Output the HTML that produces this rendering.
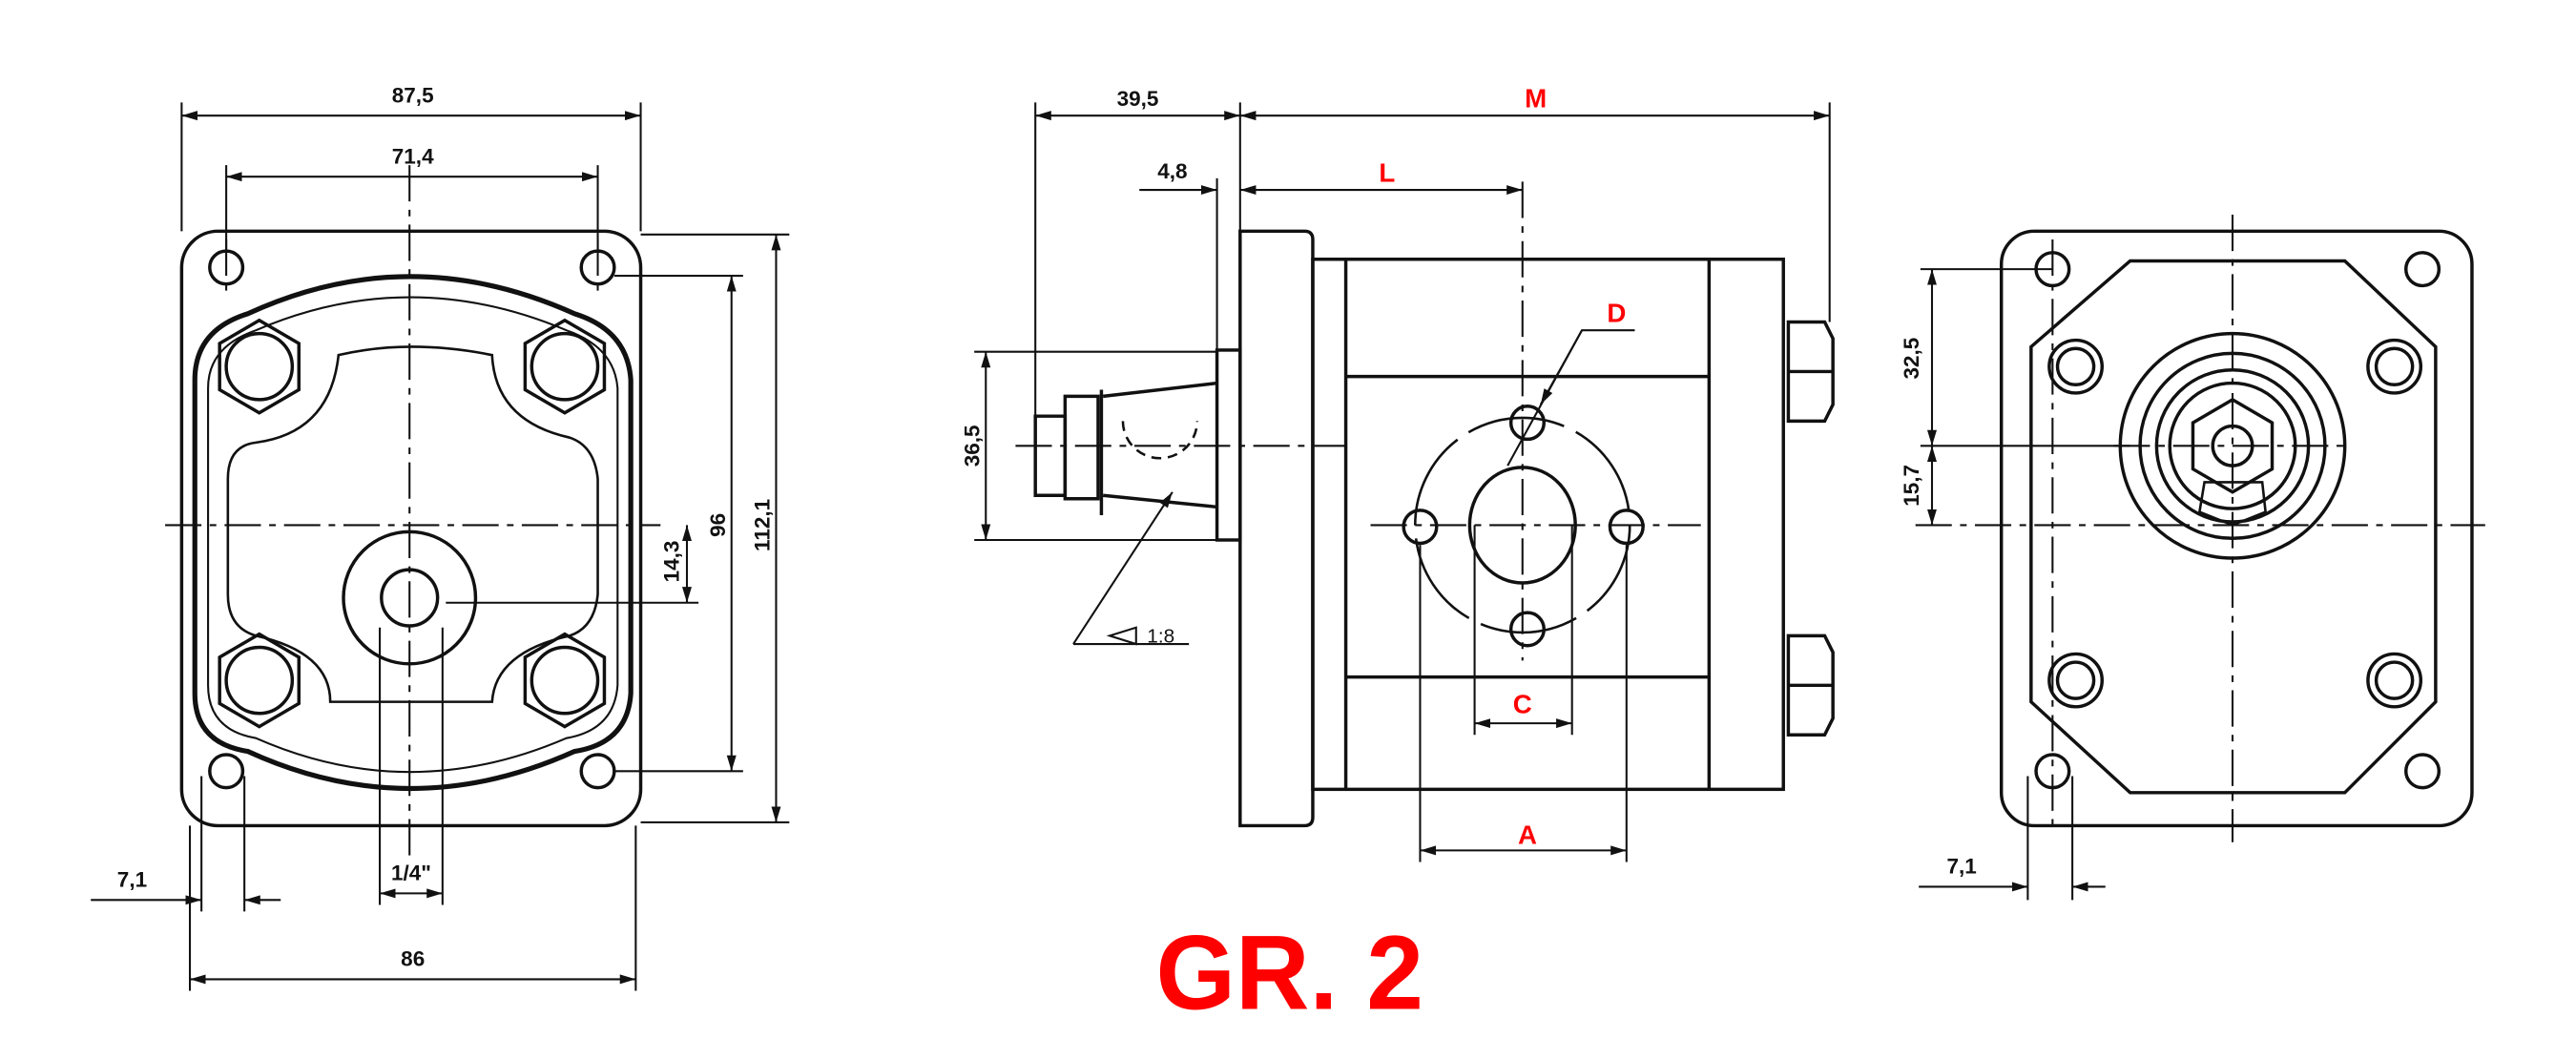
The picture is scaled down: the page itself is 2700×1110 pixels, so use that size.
<!DOCTYPE html>
<html><head><meta charset="utf-8"><style>
html,body{margin:0;padding:0;background:#fff;width:2700px;height:1110px;overflow:hidden}
svg{display:block}
text{font-family:"Liberation Sans",sans-serif;font-weight:bold;fill:#111;font-size:13px}
.r{fill:#f00;font-size:16px}
</style></head><body>
<svg width="2700" height="1110" viewBox="0 0 1560 641.3" preserveAspectRatio="none" xmlns="http://www.w3.org/2000/svg">
<defs>
<marker id="a" viewBox="0 0 10 6" refX="10" refY="3" markerWidth="8" markerHeight="5" orient="auto-start-reverse"><path d="M0,0L10,3L0,6z" fill="#111"/></marker>
</defs>
<g fill="none" stroke="#111" stroke-width="1.2">
<!-- ============ LEFT VIEW ============ -->
<g stroke-width="2">
<rect x="110" y="140" width="278" height="360" rx="22"/>
<circle cx="137" cy="162" r="10"/><circle cx="362" cy="162" r="10"/><circle cx="137" cy="467" r="10"/><circle cx="362" cy="467" r="10"/>
<path d="M150,190 Q248,145 348,190 Q380,200 382,230 L382,420 Q380,450 348,455 Q248,500 150,455 Q118,450 118,420 L118,230 Q118,200 150,190Z" stroke-width="3"/>
<path d="M155,200 Q248,160 343,200 Q372,210 374,235 L374,415 Q372,442 343,447 Q248,488 155,447 Q126,442 126,415 L126,235 Q126,210 155,200Z" stroke-width="1.2"/>
<path d="M205,215 Q248,205 298,215 Q300,255 345,265 Q360,270 362,290 L362,360 Q360,380 345,385 Q300,395 298,425 L200,425 Q200,395 155,385 Q138,380 138,360 L138,290 Q138,270 155,268 Q200,262 205,215Z" stroke-width="1.5"/>
<path d="M157,194 l24,14 v28 l-24,14 l-24,-14 v-28z"/><circle cx="157" cy="222" r="20"/>
<path d="M342,194 l24,14 v28 l-24,14 l-24,-14 v-28z"/><circle cx="342" cy="222" r="20"/>
<path d="M157,384 l24,14 v28 l-24,14 l-24,-14 v-28z"/><circle cx="157" cy="412" r="20"/>
<path d="M342,384 l24,14 v28 l-24,14 l-24,-14 v-28z"/><circle cx="342" cy="412" r="20"/>
<circle cx="248" cy="362" r="40"/><circle cx="248" cy="362" r="17"/>
</g>
<g stroke-dasharray="22,5,4,5">
<line x1="248" y1="100" x2="248" y2="520"/><line x1="100" y1="318" x2="400" y2="318"/>
<line x1="137" y1="145" x2="137" y2="180"/><line x1="362" y1="145" x2="362" y2="180"/>
</g>
<line x1="110" y1="62" x2="110" y2="140"/><line x1="388" y1="62" x2="388" y2="140"/>
<line x1="110" y1="70" x2="388" y2="70" marker-start="url(#a)" marker-end="url(#a)"/>
<line x1="137" y1="100" x2="137" y2="152"/><line x1="362" y1="100" x2="362" y2="152"/>
<line x1="137" y1="107" x2="362" y2="107" marker-start="url(#a)" marker-end="url(#a)"/>
<line x1="115" y1="500" x2="115" y2="600"/><line x1="385" y1="500" x2="385" y2="600"/>
<line x1="115" y1="593" x2="385" y2="593" marker-start="url(#a)" marker-end="url(#a)"/>
<line x1="122" y1="470" x2="122" y2="552"/><line x1="148" y1="470" x2="148" y2="552"/>
<line x1="55" y1="545" x2="122" y2="545" marker-end="url(#a)"/><line x1="170" y1="545" x2="148" y2="545" marker-end="url(#a)"/>
<line x1="230" y1="380" x2="230" y2="548"/><line x1="268" y1="380" x2="268" y2="548"/>
<line x1="230" y1="541" x2="268" y2="541" marker-start="url(#a)" marker-end="url(#a)"/>
<line x1="372" y1="167" x2="450" y2="167"/><line x1="372" y1="467" x2="450" y2="467"/>
<line x1="443" y1="167" x2="443" y2="467" marker-start="url(#a)" marker-end="url(#a)"/>
<line x1="388" y1="142" x2="478" y2="142"/><line x1="388" y1="498" x2="478" y2="498"/>
<line x1="470" y1="142" x2="470" y2="498" marker-start="url(#a)" marker-end="url(#a)"/>
<line x1="270" y1="365" x2="423" y2="365"/>
<line x1="416" y1="318" x2="416" y2="365" marker-start="url(#a)" marker-end="url(#a)"/>

<!-- ============ MIDDLE VIEW ============ -->
<g stroke-width="2">
<path d="M751,140 H790 Q795,140 795,145 V495 Q795,500 790,500 H751Z"/>
<rect x="795" y="157" width="285" height="321"/>
<line x1="815" y1="157" x2="815" y2="478"/><line x1="1035" y1="157" x2="1035" y2="478"/>
<line x1="815" y1="228" x2="1035" y2="228"/><line x1="815" y1="410" x2="1035" y2="410"/>
<rect x="737" y="212" width="14" height="115"/>
<path d="M668,240 L737,232 M668,300 L737,307"/>
<path d="M627,252 H645 V300 H627Z"/><path d="M645,240 H665 V302 H645Z"/>
<line x1="667" y1="236" x2="667" y2="312"/>
<path d="M1083,195 H1105 L1110,205 V245 L1105,255 H1083Z"/><line x1="1083" y1="225" x2="1110" y2="225"/>
<path d="M1083,385 H1105 L1110,395 V435 L1105,445 H1083Z"/><line x1="1083" y1="415" x2="1110" y2="415"/>
<circle cx="925" cy="256" r="10"/><circle cx="860" cy="319" r="10"/><circle cx="985" cy="319" r="10"/><circle cx="925" cy="381" r="10"/>
<ellipse cx="922" cy="318" rx="32" ry="35"/>
</g>
<path d="M680,255 A22,22 0 0 0 725,255" stroke-dasharray="6,4" stroke-width="1.5"/>
<circle cx="922" cy="318" r="65" stroke-dasharray="60,8" stroke-width="1.5"/>
<g stroke-dasharray="22,5,4,5">
<line x1="922" y1="110" x2="922" y2="400"/><line x1="830" y1="318" x2="1030" y2="318"/>
<line x1="615" y1="270" x2="815" y2="270"/>
</g>
<line x1="627" y1="62" x2="627" y2="255"/><line x1="751" y1="62" x2="751" y2="140"/><line x1="1108" y1="62" x2="1108" y2="195"/>
<line x1="627" y1="70" x2="751" y2="70" marker-start="url(#a)" marker-end="url(#a)"/>
<line x1="751" y1="70" x2="1108" y2="70" marker-start="url(#a)" marker-end="url(#a)"/>
<line x1="737" y1="108" x2="737" y2="212"/>
<line x1="690" y1="115" x2="737" y2="115" marker-end="url(#a)"/>
<line x1="751" y1="115" x2="922" y2="115" marker-start="url(#a)" marker-end="url(#a)"/>
<line x1="590" y1="213" x2="737" y2="213"/><line x1="590" y1="327" x2="737" y2="327"/>
<line x1="597" y1="213" x2="597" y2="327" marker-start="url(#a)" marker-end="url(#a)"/>
<line x1="710" y1="298" x2="650" y2="390" marker-start="url(#a)"/><line x1="650" y1="390" x2="720" y2="390"/>
<path d="M672,385 L688,380 V390Z"/>
<line x1="893" y1="318" x2="893" y2="445"/><line x1="952" y1="318" x2="952" y2="445"/>
<line x1="893" y1="438" x2="952" y2="438" marker-start="url(#a)" marker-end="url(#a)"/>
<line x1="860" y1="330" x2="860" y2="522"/><line x1="985" y1="330" x2="985" y2="522"/>
<line x1="860" y1="515" x2="985" y2="515" marker-start="url(#a)" marker-end="url(#a)"/>
<path d="M990,200 H958 L913,282"/><line x1="958" y1="200" x2="933" y2="245" marker-end="url(#a)"/>

<!-- ============ RIGHT VIEW ============ -->
<g stroke-width="2">
<rect x="1212" y="140" width="285" height="360" rx="20"/>
<circle cx="1243" cy="163" r="10"/><circle cx="1467" cy="163" r="10"/><circle cx="1243" cy="467" r="10"/><circle cx="1467" cy="467" r="10"/>
<path d="M1290,158 H1420 L1475,210 V425 L1420,480 H1290 L1230,425 V210Z"/>
<circle cx="1257" cy="222" r="16"/><circle cx="1257" cy="222" r="11"/>
<circle cx="1450" cy="222" r="16"/><circle cx="1450" cy="222" r="11"/>
<circle cx="1257" cy="412" r="16"/><circle cx="1257" cy="412" r="11"/>
<circle cx="1450" cy="412" r="16"/><circle cx="1450" cy="412" r="11"/>
<circle cx="1352" cy="270" r="68"/><circle cx="1352" cy="270" r="56"/><circle cx="1352" cy="270" r="46"/><circle cx="1352" cy="270" r="38"/>
<path d="M1352,242 L1376,256 V284 L1352,298 L1328,284 V256Z"/>
<circle cx="1352" cy="270" r="12"/>
<path d="M1335,292 H1370 L1372,310 L1352,318 L1332,310Z" stroke-width="1.5"/>
</g>
<g stroke-dasharray="22,5,4,5">
<line x1="1352" y1="130" x2="1352" y2="510"/><line x1="1160" y1="318" x2="1505" y2="318"/>
<line x1="1280" y1="270" x2="1420" y2="270"/>
<line x1="1243" y1="145" x2="1243" y2="500"/>
</g>
<line x1="1163" y1="163" x2="1243" y2="163"/><line x1="1163" y1="270" x2="1290" y2="270"/>
<line x1="1170" y1="163" x2="1170" y2="270" marker-start="url(#a)" marker-end="url(#a)"/>
<line x1="1170" y1="270" x2="1170" y2="318" marker-start="url(#a)" marker-end="url(#a)"/>
<line x1="1228" y1="470" x2="1228" y2="545"/><line x1="1255" y1="470" x2="1255" y2="545"/>
<line x1="1162" y1="537" x2="1228" y2="537" marker-end="url(#a)"/><line x1="1275" y1="537" x2="1255" y2="537" marker-end="url(#a)"/>
</g>
<text x="250" y="62" text-anchor="middle">87,5</text>
<text x="250" y="99" text-anchor="middle">71,4</text>
<text x="250" y="585" text-anchor="middle">86</text>
<text x="80" y="537" text-anchor="middle">7,1</text>
<text x="249" y="533" text-anchor="middle">1/4"</text>
<text transform="translate(439,318) rotate(-90)" text-anchor="middle">96</text>
<text transform="translate(466,318) rotate(-90)" text-anchor="middle">112,1</text>
<text transform="translate(411,340) rotate(-90)" text-anchor="middle">14,3</text>
<text x="689" y="64" text-anchor="middle">39,5</text>
<text x="710" y="108" text-anchor="middle">4,8</text>
<text transform="translate(593,270) rotate(-90)" text-anchor="middle">36,5</text>
<text x="703" y="389" text-anchor="middle" style="font-weight:normal;font-size:12px">1:8</text>
<text class="r" x="930" y="65" text-anchor="middle">M</text>
<text class="r" x="840" y="110" text-anchor="middle">L</text>
<text class="r" x="979" y="195" text-anchor="middle">D</text>
<text class="r" x="922" y="432" text-anchor="middle">C</text>
<text class="r" x="925" y="511" text-anchor="middle">A</text>
<text transform="translate(1162,217) rotate(-90)" text-anchor="middle">32,5</text>
<text transform="translate(1162,294) rotate(-90)" text-anchor="middle">15,7</text>
<text x="1188" y="529" text-anchor="middle">7,1</text>
<text x="781" y="611" text-anchor="middle" textLength="162" lengthAdjust="spacingAndGlyphs" style="fill:#f00;font-size:64px;font-weight:bold">GR. 2</text>
</svg>
</body></html>
